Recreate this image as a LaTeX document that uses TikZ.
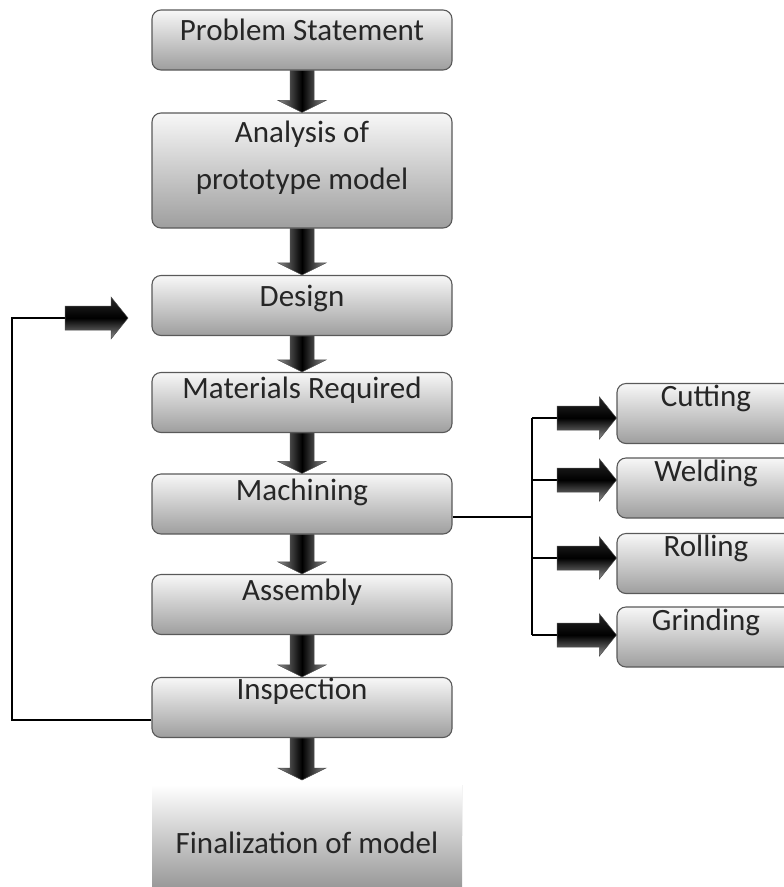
\documentclass[tikz,border=0pt]{standalone}
\usepackage{fontspec}
\setmainfont{Carlito}
\usetikzlibrary{calc}
\tikzset{
  box/.style={draw=black!65, line width=1.1pt, rounded corners=9pt,
    top color=white!97!black, bottom color=black!38,
    minimum width=300pt, inner xsep=0pt, inner ysep=3pt,
    text height=23pt, text depth=31pt,
    font=\fontsize{31}{47}\selectfont, text=black!85},
  sidebox/.style={box, minimum width=178pt, text height=20pt, text depth=34pt},
  finbox/.style={box, draw=none, rounded corners=0pt, minimum width=310pt,
    text height=65pt, text depth=31pt, top color=white, bottom color=black!40,
    path picture={\draw[black!35, line width=1pt] (path picture bounding box.north east) -- (path picture bounding box.east);}},
  fatv/.style={draw=black!70, line width=0.5pt, left color=black!45, right color=black!45, middle color=black},
  fath/.style={draw=black!70, line width=0.5pt, top color=black!85, bottom color=black!45, middle color=black},
  link/.style={draw=black, line width=1.2pt},
}
% block arrows between two points
\newcommand\fatdown[2]{%
  \path[fatv] ($(#1)+(-12,0)$) -- ($(#2)+(-12,-12)$) -- ($(#2)+(-24,-12)$) -- (#2)
    -- ($(#2)+(24,-12)$) -- ($(#2)+(12,-12)$) -- ($(#1)+(12,0)$) -- cycle;}
\newcommand\fatright[2]{%
  \path[fath] ($(#1)+(0,-12)$) -- ($(#2)+(-17,-12)$) -- ($(#2)+(-17,-21)$) -- (#2)
    -- ($(#2)+(-17,21)$) -- ($(#2)+(-17,12)$) -- ($(#1)+(0,12)$) -- cycle;}
\begin{document}
\begin{tikzpicture}[x=1pt, y=-1pt]
\useasboundingbox (0,0) rectangle (784,887);
\clip (0,0) rectangle (784,887);
%
\node[box, text height=27pt, text depth=27pt] (ps) at (302,40) {Problem Statement};
\node[box, align=center, text height=73pt, text depth=36pt] (ana) at (302,170.5) {Analysis of\\prototype model};
\node[box, text height=28pt, text depth=26pt] (des) at (302,305.5) {Design};
\node[box] (mat) at (302,402.5) {Materials Required};
\node[box] (mach) at (302,504) {Machining};
\node[box] (asm) at (302,604.5) {Assembly};
\node[box, text height=19pt, text depth=35pt] (insp) at (302,707.5) {Inspection};
\node[finbox] (fin) at (307,836) {Finalization of model};
%
\fatdown{ps.south}{ana.north}
\fatdown{ana.south}{des.north}
\fatdown{des.south}{mat.north}
\fatdown{mat.south}{mach.north}
\fatdown{mach.south}{asm.north}
\fatdown{asm.south}{insp.north}
\coordinate (ftip) at (302,780);
\fatdown{insp.south}{ftip}
%
% feedback to design
\coordinate (fb1) at (12,720);
\coordinate (fb2) at (65,318);
\coordinate (fbtip) at (128,318);
\draw[link] (insp.west |- fb1) -- (fb1) |- (fb2);
\fatright{fb2}{fbtip}
%
% machining processes
\node[sidebox] (cut) at (706,413.5) {Cutting};
\node[sidebox] (weld) at (706,488) {Welding};
\node[sidebox] (roll) at (706,563.5) {Rolling};
\node[sidebox] (grind) at (706,637) {Grinding};
\coordinate (mj) at (532,517);
\draw[link] (mach.east |- mj) -- (mj);
\foreach \n/\y in {cut/418, weld/480, roll/558, grind/635} {
  \coordinate (b-\n) at (532,\y);
  \coordinate (a-\n) at (557,\y);
  \coordinate (t-\n) at (\n.west |- a-\n);
  \draw[link] (b-\n) -- (a-\n);
  \fatright{a-\n}{t-\n}
}
\draw[link] (b-cut) -- (b-grind);
\end{tikzpicture}
\end{document}
